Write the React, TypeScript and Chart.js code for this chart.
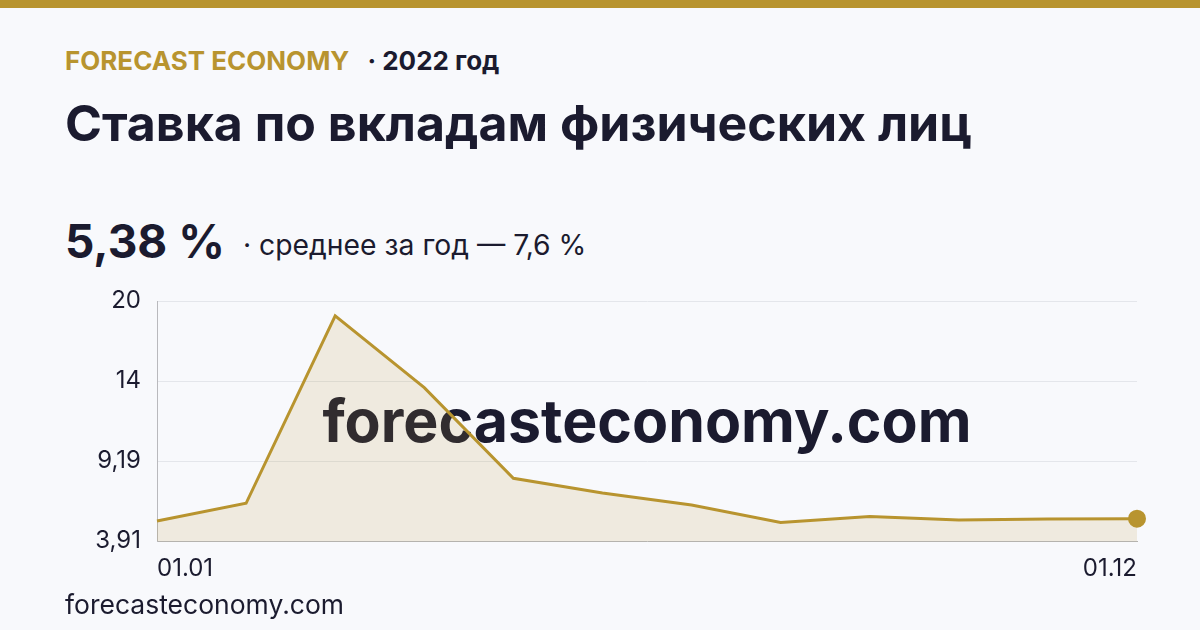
import React, { useEffect, useRef } from "react";
import { Chart, registerables, LinearScale } from "chart.js";

const months: string[] = ["01.01", "01.02", "01.03", "01.04", "01.05", "01.06", "01.07", "01.08", "01.09", "01.10", "01.11", "01.12"];
const depositRate: number[] = [5.23, 6.4, 18.88, 13.6, 8.05, 7.08, 6.29, 5.13, 5.53, 5.3, 5.36, 5.38];
const yTickValues: number[] = [3.91, 9.19, 14, 20];
const yTickLabels: string[] = ["3,91", "9,19", "14", "20"];

const GOLD = "#b8942f";
const DARK = "#1b1b2f";
const BG = "#f8f9fc";

class PiecewiseScale extends LinearScale {
  static id = "piecewise";
  buildTicks() {
    return yTickValues.map((v) => ({ value: v }));
  }
  getPixelForValue(value: number) {
    const bp = yTickValues;
    const n = bp.length - 1;
    let i = 0;
    while (i < n - 1 && value > bp[i + 1]) i++;
    const frac = (value - bp[i]) / (bp[i + 1] - bp[i]);
    return this.getPixelForDecimal((i + frac) / n);
  }
  getValueForPixel(pixel: number) {
    const bp = yTickValues;
    const n = bp.length - 1;
    const d = this.getDecimalForPixel(pixel) * n;
    const i = Math.min(Math.max(Math.floor(d), 0), n - 1);
    return bp[i] + (d - i) * (bp[i + 1] - bp[i]);
  }
}

Chart.register(...registerables, PiecewiseScale as any);

const watermark = {
  id: "watermark",
  beforeDatasetsDraw(chart: any) {
    const { ctx, chartArea } = chart;
    ctx.save();
    ctx.font = "700 59px Inter";
    ctx.fillStyle = DARK;
    ctx.textAlign = "center";
    ctx.textBaseline = "alphabetic";
    ctx.fillText("forecasteconomy.com", (chartArea.left + chartArea.right) / 2, (chartArea.top + chartArea.bottom) / 2 + 21);
    ctx.restore();
  },
};

function RateChart() {
  const ref = useRef<HTMLCanvasElement | null>(null);
  useEffect(() => {
    if (!ref.current) return;
    const last = depositRate.length - 1;
    const chart = new Chart(ref.current, {
      type: "line",
      data: {
        labels: months,
        datasets: [
          {
            data: depositRate,
            borderColor: GOLD,
            borderWidth: 3,
            backgroundColor: "rgba(184,148,47,0.14)",
            fill: "start",
            tension: 0,
            clip: false as any,
            pointRadius: depositRate.map((_, i) => (i === last ? 8 : 0)),
            pointBorderWidth: 2,
            pointBackgroundColor: GOLD,
            pointBorderColor: GOLD,
            pointHoverRadius: 0,
          },
        ],
      },
      options: {
        animation: false,
        responsive: false,
        devicePixelRatio: 1,
        layout: { padding: { left: 0, right: 63, top: 21, bottom: 0 } },
        plugins: { legend: { display: false }, tooltip: { enabled: false } },
        events: [],
        scales: {
          x: {
            grid: { display: false, drawTicks: false },
            border: { display: true, color: "#b5b3ae", width: 1 },
            ticks: {
              autoSkip: false,
              maxRotation: 0,
              align: "inner",
              padding: 13,
              color: DARK,
              font: { family: "Inter", size: 24 },
              callback: (_v: any, i: number) => (i === 0 || i === months.length - 1 ? months[i] : ""),
            },
            afterFit: (s: any) => {
              s.height = 49;
              s.paddingLeft = 0;
              s.paddingRight = 0;
            },
          },
          y: {
            type: "piecewise" as any,
            min: yTickValues[0],
            max: yTickValues[yTickValues.length - 1],
            grid: { color: "#e4e6eb", drawTicks: false, lineWidth: 1 },
            border: { display: true, color: "#b9b9bd", width: 1 },
            ticks: {
              padding: 16,
              color: DARK,
              font: { family: "Inter", size: 24 },
              callback: (_v: any, i: number) => yTickLabels[i],
            },
            afterFit: (s: any) => {
              s.width = 157;
              s.paddingTop = 0;
              s.paddingBottom = 0;
            },
          },
        },
      } as any,
      plugins: [watermark],
    });
    return () => chart.destroy();
  }, []);
  return <canvas ref={ref} width={1200} height={310} style={{ position: "absolute", left: 0, top: 280, width: 1200, height: 310 }} />;
}

export default function App() {
  return (
    <div style={{ position: "relative", width: 1200, height: 630, background: BG, overflow: "hidden", fontFamily: "Inter, 'Noto Sans', sans-serif", color: DARK }}>
      <style>{`body{margin:0}`}</style>
      <div style={{ position: "absolute", left: 0, top: 0, width: 1200, height: 8, background: GOLD }} />
      <div style={{ position: "absolute", left: 65, top: 48, lineHeight: 1, fontSize: 26, fontWeight: 700, whiteSpace: "nowrap" }}>
        <span style={{ color: GOLD }}>FORECAST ECONOMY</span>
        <span style={{ marginLeft: 18 }}>· 2022 год</span>
      </div>
      <div style={{ position: "absolute", left: 65, top: 98, lineHeight: 1, fontSize: 50, fontWeight: 700, whiteSpace: "nowrap" }}>
        Ставка по вкладам физических лиц
      </div>
      <div style={{ position: "absolute", left: 65, top: 218, lineHeight: 1, fontSize: 46, fontWeight: 700, whiteSpace: "nowrap" }}>5,38 %</div>
      <div style={{ position: "absolute", left: 243, top: 231, lineHeight: 1, fontSize: 28.3, fontWeight: 400, whiteSpace: "nowrap" }}>
        · среднее за год — 7,6 %
      </div>
      <RateChart />
      <div style={{ position: "absolute", left: 65, top: 591, lineHeight: 1, fontSize: 26.5, fontWeight: 400, whiteSpace: "nowrap" }}>
        forecasteconomy.com
      </div>
    </div>
  );
}
